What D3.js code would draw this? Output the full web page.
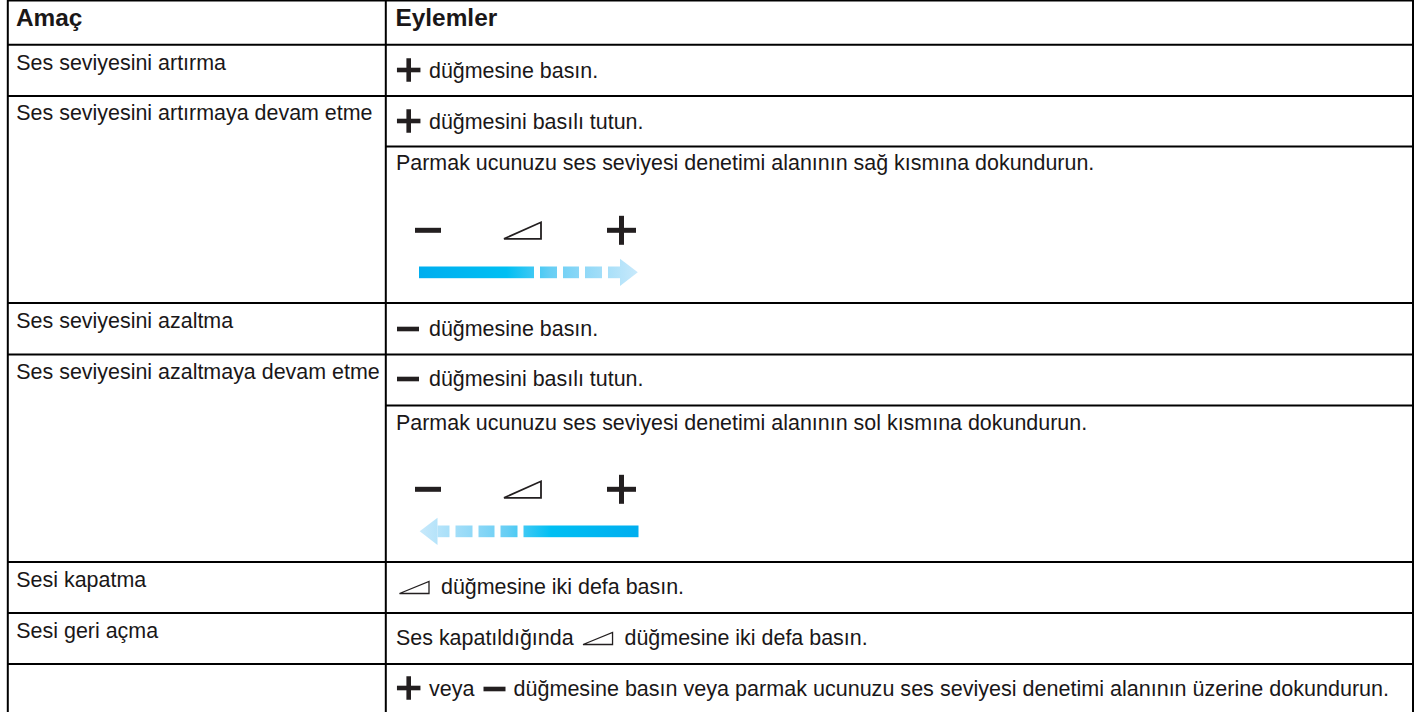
<!DOCTYPE html>
<html>
<head>
<meta charset="utf-8">
<script src="https://cdn.jsdelivr.net/npm/d3@7"></script>
<style>
html, body { margin: 0; padding: 0; background: #fff; overflow: hidden; }
text { font-family: "Liberation Sans", Arial, sans-serif; fill: #1a1718; }
</style>
</head>
<body>
<script>
// table content
let headers = ["Amaç", "Eylemler"]
let goals = ["Ses seviyesini artırma", "Ses seviyesini artırmaya devam etme", "Ses seviyesini azaltma",
             "Ses seviyesini azaltmaya devam etme", "Sesi kapatma", "Sesi geri açma"]
let actions = [
    ["+", " düğmesine basın."],
    ["+", " düğmesini basılı tutun."],
    ["Parmak ucunuzu ses seviyesi denetimi alanının sağ kısmına dokundurun."],
    ["-", " düğmesine basın."],
    ["-", " düğmesini basılı tutun."],
    ["Parmak ucunuzu ses seviyesi denetimi alanının sol kısmına dokundurun."],
    ["^", " düğmesine iki defa basın."],
    ["Ses kapatıldığında ", "^", " düğmesine iki defa basın."],
    ["+", " veya ", "-", " düğmesine basın veya parmak ucunuzu ses seviyesi denetimi alanının üzerine dokundurun."]
]

// layout
let w = 1417, h = 712
let colX = [7.8, 385.8, 1413]
let fullRules = [0.5, 44.8, 96, 303, 354.5, 562, 613, 664]
let rightRules = [146.5, 405.5]
let goalBase = [70, 120, 328, 378.5, 587, 638]
let actionBase = [78, 129, 170, 336, 386, 430, 594, 645, 696]
let panelY = [0, 259]
let fs = 21.45
let lastRowFs = 21.55

let svg = d3.select("body").append("svg").attr("width", w).attr("height", h)
let defs = svg.append("defs")

let grad = defs.append("linearGradient").attr("id", "fade").attr("gradientUnits", "userSpaceOnUse")
    .attr("x1", 419).attr("x2", 638).attr("y1", 0).attr("y2", 0)
grad.selectAll("stop")
    .data([[0, "#00aeef"], [0.4, "#00bff3"], [0.52, "#3cc8f4"], [0.6, "#66cef4"], [0.75, "#8fd8f7"], [1, "#c8e9fb"]])
    .enter().append("stop")
    .attr("offset", d => d[0]).attr("stop-color", d => d[1])

// rules
svg.selectAll(".full").data(fullRules).enter().append("line").attr("class", "full")
    .attr("x1", colX[0]).attr("x2", colX[2]).attr("y1", d => d).attr("y2", d => d)
    .attr("stroke", "#000").attr("stroke-width", 2)
svg.selectAll(".right").data(rightRules).enter().append("line").attr("class", "right")
    .attr("x1", colX[1]).attr("x2", colX[2]).attr("y1", d => d).attr("y2", d => d)
    .attr("stroke", "#000").attr("stroke-width", 2)
svg.selectAll(".col").data(colX).enter().append("line").attr("class", "col")
    .attr("x1", d => d).attr("x2", d => d).attr("y1", 0).attr("y2", h)
    .attr("stroke", "#000").attr("stroke-width", 2)

// glyphs
function plus(g, x, y, size, thick) {
    g.append("path").attr("d", d3.line()([[x - size / 2, y], [x + size / 2, y]]))
        .attr("stroke", "#231f20").attr("stroke-width", thick)
    g.append("path").attr("d", d3.line()([[x, y - size / 2], [x, y + size / 2]]))
        .attr("stroke", "#231f20").attr("stroke-width", thick)
}
function minus(g, x, y, size, thick) {
    g.append("path").attr("d", d3.line()([[x - size / 2, y], [x + size / 2, y]]))
        .attr("stroke", "#231f20").attr("stroke-width", thick)
}
function wedge(g, x, y, wid, hgt, sw) {
    g.append("path").attr("d", d3.line()([[x, y], [x + wid, y - hgt], [x + wid, y]]) + "Z")
        .attr("fill", "#fff").attr("stroke", "#231f20").attr("stroke-width", sw)
}

// header
svg.selectAll(".head").data(headers).enter().append("text").attr("class", "head")
    .attr("x", (d, i) => i ? 395.5 : 16).attr("y", 25.5)
    .attr("font-weight", "bold").attr("font-size", 24.4).text(d => d)

// left column
svg.selectAll(".goal").data(goals).enter().append("text").attr("class", "goal")
    .attr("x", 16.3).attr("y", (d, i) => goalBase[i]).attr("font-size", fs).text(d => d)

// right column, text runs with inline glyphs
actions.forEach((run, i) => {
    let g = svg.append("g")
    let x = 396, y = actionBase[i]
    run.forEach(part => {
        if (part == "+") {
            plus(g, x + 12.7, y - 8, 23.5, 4.6)
            x += 27
        } else if (part == "-") {
            minus(g, x > 396 ? x + 14 : x + 12, y - 7, 22, 4.6)
            x += 27
        } else if (part == "^") {
            wedge(g, x + 3.5, y - 0.5, 29.5, 12, 1.3)
            x += 39
        } else {
            let t = g.append("text").attr("x", x).attr("y", y)
                .attr("font-size", i == actions.length - 1 ? lastRowFs : fs)
                .style("white-space", "pre").text(part)
            x += t.node().getComputedTextLength()
        }
    })
})

// volume panels
panelY.forEach((dy, k) => {
    let g = svg.append("g").attr("transform", "translate(0," + dy + ")")
    minus(g, 428, 230.3, 26, 5)
    wedge(g, 504, 238.8, 37, 16.5, 1.8)
    plus(g, 621.5, 230.3, 29, 5)
    let bar = k == 0 ? g.append("g") : g.append("g").attr("transform", "translate(1057.5,0) scale(-1,1)")
    let segs = [[419, 534], [540, 557], [563, 579], [585, 602], [608, 620]]
    bar.selectAll("rect").data(segs).enter().append("rect")
        .attr("x", d => d[0]).attr("width", d => d[1] - d[0])
        .attr("y", 266.5).attr("height", 11.7).attr("fill", "url(#fade)")
    bar.append("path").attr("d", d3.line()([[620, 258.7], [637.8, 272.3], [620, 286]]) + "Z")
        .attr("fill", "url(#fade)")
})
</script>
</body>
</html>
